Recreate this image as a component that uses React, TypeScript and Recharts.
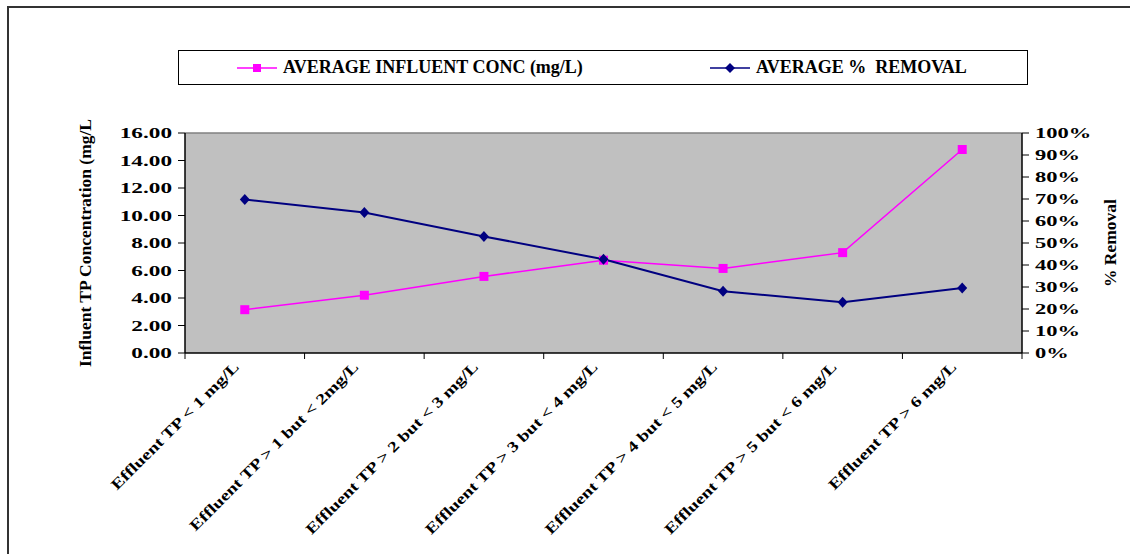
import { CartesianGrid, Legend, Line, LineChart, ReferenceLine, XAxis, YAxis } from 'recharts';

const categories = [
	'Effluent TP < 1 mg/L',
	'Effluent TP  > 1 but < 2mg/L',
	'Effluent TP > 2  but < 3 mg/L',
	'Effluent TP > 3  but < 4 mg/L',
	'Effluent TP > 4  but < 5 mg/L',
	'Effluent TP > 5  but < 6 mg/L',
	'Effluent TP > 6 mg/L'
];
const influentConc = [3.15, 4.2, 5.57, 6.75, 6.15, 7.3, 14.8];
const pctRemoval = [69.8, 63.9, 53, 42.6, 28.1, 23.1, 29.5];
const leftTicks = [0, 2, 4, 6, 8, 10, 12, 14, 16];
const rightTicks = [0, 10, 20, 30, 40, 50, 60, 70, 80, 90, 100];

const data = categories.map((c, i) => ({ category: c, influent: influentConc[i], removal: pctRemoval[i] }));

const FONT = "'Liberation Serif', 'Times New Roman', serif";
const PINK = '#FF00FF';
const NAVY = '#000080';

const SquareDot = (props: any) => {
	const { cx, cy, index } = props;
	return <rect key={`sq-${index}`} x={cx - 4.5} y={cy - 4.5} width={9} height={9} fill={PINK} />;
};

const DiamondDot = (props: any) => {
	const { cx, cy, index } = props;
	return <polygon key={`dm-${index}`} points={`${cx},${cy - 5.5} ${cx + 5},${cy} ${cx},${cy + 5.5} ${cx - 5},${cy}`} fill={NAVY} />;
};

// Excel's export has wide glyphs, so the tick text is stretched along its baseline
const LeftTick = ({ x, y, payload }: any) => (
	<text
		transform={`translate(${x} ${y}) scale(1.55 1)`}
		dy="0.35em"
		textAnchor="end"
		fontFamily={FONT}
		fontWeight="bold"
		fontSize={15}
		fill="#000"
	>
		{Number(payload.value).toFixed(2)}
	</text>
);

const RightTick = ({ x, y, payload }: any) => (
	<text
		transform={`translate(${x} ${y}) scale(1.5 1)`}
		dy="0.35em"
		textAnchor="start"
		fontFamily={FONT}
		fontWeight="bold"
		fontSize={15}
		fill="#000"
	>
		{payload.value}%
	</text>
);

const CatTick = ({ x, y, payload, index }: any) => {
	const half = payload.offset || 59.8;
	const last = index === categories.length - 1;
	return (
		<g>
			<line x1={x - half} y1={y} x2={x - half} y2={y + 6} stroke="#000" />
			{last && <line x1={x + half} y1={y} x2={x + half} y2={y + 6} stroke="#000" />}
			<text
				transform={`translate(${x - 5} ${y + 15}) rotate(-45) scale(1.28 1)`}
				textAnchor="end"
				fontFamily={FONT}
				fontWeight="bold"
				fontSize={15}
				fill="#000"
			>
				{payload.value}
			</text>
		</g>
	);
};

const LegendBox = () => (
	<div
		style={{
			position: 'relative',
			boxSizing: 'border-box',
			width: 850,
			height: 35,
			border: '1px solid #000',
			background: '#fff',
			fontFamily: FONT,
			fontWeight: 'bold',
			fontSize: 18,
			color: '#000'
		}}
	>
		<div style={{ position: 'absolute', left: 58, top: 0, height: 33, display: 'flex', alignItems: 'center' }}>
			<svg width={40} height={12}>
				<line x1={0} y1={6} x2={40} y2={6} stroke={PINK} strokeWidth={1.5} />
				<rect x={16} y={2} width={8} height={8} fill={PINK} />
			</svg>
			<span style={{ marginLeft: 6, whiteSpace: 'pre' }}>AVERAGE INFLUENT CONC (mg/L)</span>
		</div>
		<div style={{ position: 'absolute', left: 531, top: 0, height: 33, display: 'flex', alignItems: 'center' }}>
			<svg width={40} height={12}>
				<line x1={0} y1={6} x2={40} y2={6} stroke={NAVY} strokeWidth={1.5} />
				<polygon points="20,1 25,6 20,11 15,6" fill={NAVY} />
			</svg>
			<span style={{ marginLeft: 6, whiteSpace: 'pre' }}>AVERAGE %  REMOVAL</span>
		</div>
	</div>
);

const AxisTitle = ({ viewBox, text, dx }: any) => {
	const x = viewBox.x + dx;
	const y = viewBox.y + viewBox.height / 2;
	return (
		<text
			x={x}
			y={y}
			textAnchor="middle"
			dominantBaseline="central"
			transform={`rotate(-90 ${x} ${y})`}
			fontFamily={FONT}
			fontWeight="bold"
			fontSize={17.5}
			fill="#000"
		>
			{text}
		</text>
	);
};

export default function App() {
	return (
		<div style={{ position: 'absolute', left: 0, top: 0, width: 1130, height: 554, overflow: 'hidden', background: '#fff' }}>
			<div
				style={{
					position: 'absolute',
					left: 7,
					top: 6,
					width: 1200,
					height: 600,
					borderTop: '2px solid #333',
					borderLeft: '2px solid #333'
				}}
			/>
			<LineChart width={1130} height={554} data={data} margin={{ top: 133, right: 0, bottom: 0, left: 0 }}>
				<CartesianGrid fill="#C0C0C0" horizontal={false} vertical={false} />
				<XAxis
					dataKey="category"
					scale="band"
					height={201}
					interval={0}
					tickLine={false}
					tickSize={0}
					tickMargin={0}
					axisLine={{ stroke: '#000', strokeWidth: 1.5 }}
					tick={<CatTick />}
				/>
				<YAxis
					yAxisId="left"
					width={185}
					domain={[0, 16]}
					ticks={leftTicks}
					interval={0}
					tickSize={7}
					tickMargin={6}
					tickLine={{ stroke: '#000' }}
					axisLine={{ stroke: '#000', strokeWidth: 1.5 }}
					tick={<LeftTick />}
					label={{ content: (p: any) => <AxisTitle viewBox={p.viewBox} text="Influent TP Concentration (mg/L" dx={85} /> }}
				/>
				<YAxis
					yAxisId="right"
					orientation="right"
					width={108}
					domain={[0, 100]}
					ticks={rightTicks}
					interval={0}
					tickSize={7}
					tickMargin={6}
					tickLine={{ stroke: '#000' }}
					axisLine={{ stroke: '#000', strokeWidth: 1.5 }}
					tick={<RightTick />}
					label={{ content: (p: any) => <AxisTitle viewBox={p.viewBox} text="% Removal" dx={88} /> }}
				/>
				<ReferenceLine yAxisId="left" y={16} stroke="#808080" strokeWidth={1.5} />
				<Legend
					layout="horizontal"
					verticalAlign="middle"
					align="center"
					wrapperStyle={{ top: 50, left: 178, width: 850, height: 35 }}
					content={() => <LegendBox />}
				/>
				<Line
					yAxisId="left"
					type="linear"
					dataKey="influent"
					stroke={PINK}
					strokeWidth={1.5}
					dot={SquareDot}
					activeDot={false}
					isAnimationActive={false}
				/>
				<Line
					yAxisId="right"
					type="linear"
					dataKey="removal"
					stroke={NAVY}
					strokeWidth={2}
					dot={DiamondDot}
					activeDot={false}
					isAnimationActive={false}
				/>
			</LineChart>
		</div>
	);
}
